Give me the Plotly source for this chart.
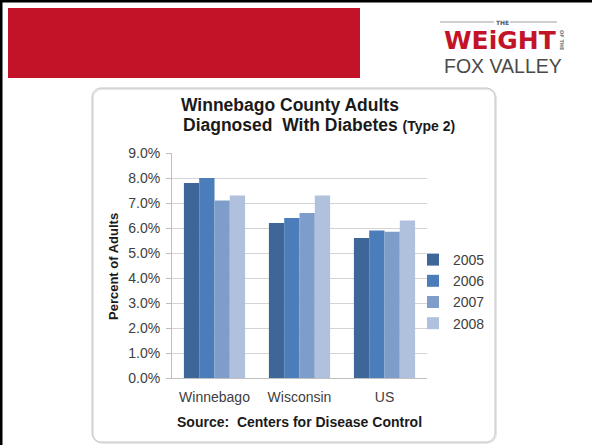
import plotly.graph_objects as go

categories = ["Winnebago", "Wisconsin", "US"]
years = ["2005", "2006", "2007", "2008"]
v2005 = [0.078, 0.062, 0.056]
v2006 = [0.080, 0.064, 0.059]
v2007 = [0.071, 0.066, 0.0585]
v2008 = [0.073, 0.073, 0.063]
series = [v2005, v2006, v2007, v2008]
colors = ["#3E6698", "#4A7DBA", "#7F9DCB", "#B0C1DE"]

W, H = 592, 445
L, R, T, B = 172, 427, 153, 378  # plot area pixels

def fx(px):
    return (px - L) / (R - L)

def fy(py):
    return 1 - (py - T) / (B - T)

FONT = "Liberation Sans, Arial, sans-serif"

fig = go.Figure()
for name, vals, col in zip(years, series, colors):
    fig.add_trace(go.Bar(x=categories, y=vals, name=name, marker=dict(color=col, line=dict(width=0))))

shapes = []
# black border top & left
shapes.append(dict(type="rect", xref="paper", yref="paper", x0=fx(0), x1=fx(W), y0=fy(0), y1=fy(2.5),
                   fillcolor="black", line=dict(width=0), layer="above"))
shapes.append(dict(type="rect", xref="paper", yref="paper", x0=fx(0), x1=fx(2.5), y0=fy(0), y1=fy(H),
                   fillcolor="black", line=dict(width=0), layer="above"))
# red banner
shapes.append(dict(type="rect", xref="paper", yref="paper", x0=fx(8), x1=fx(360), y0=fy(8), y1=fy(78),
                   fillcolor="#C31329", line=dict(width=0), layer="below"))

# rounded chart box
def rrect(x0, y0, x1, y1, r):
    k = 0.45
    pts = [
        f"M{fx(x0 + r)},{fy(y0)}",
        f"L{fx(x1 - r)},{fy(y0)}",
        f"C{fx(x1 - r * k)},{fy(y0)} {fx(x1)},{fy(y0 + r * k)} {fx(x1)},{fy(y0 + r)}",
        f"L{fx(x1)},{fy(y1 - r)}",
        f"C{fx(x1)},{fy(y1 - r * k)} {fx(x1 - r * k)},{fy(y1)} {fx(x1 - r)},{fy(y1)}",
        f"L{fx(x0 + r)},{fy(y1)}",
        f"C{fx(x0 + r * k)},{fy(y1)} {fx(x0)},{fy(y1 - r * k)} {fx(x0)},{fy(y1 - r)}",
        f"L{fx(x0)},{fy(y0 + r)}",
        f"C{fx(x0)},{fy(y0 + r * k)} {fx(x0 + r * k)},{fy(y0)} {fx(x0 + r)},{fy(y0)}",
        "Z",
    ]
    return " ".join(pts)

shapes.append(dict(type="path", xref="paper", yref="paper", path=rrect(93, 89, 496, 443, 9),
                   line=dict(color="#E6E6E6", width=2), layer="below"))
shapes.append(dict(type="path", xref="paper", yref="paper", path=rrect(92, 88, 495, 442, 9),
                   line=dict(color="#C4C4C4", width=1), layer="below"))

# logo lines
shapes.append(dict(type="line", xref="paper", yref="paper", x0=fx(440), x1=fx(494), y0=fy(22), y1=fy(22),
                   line=dict(color="#A0A0A0", width=1)))
shapes.append(dict(type="line", xref="paper", yref="paper", x0=fx(510), x1=fx(557), y0=fy(22), y1=fy(22),
                   line=dict(color="#A0A0A0", width=1)))

annotations = []
def ann(text, x, y, size, color="#000000", bold=False, xanchor="left", yanchor="middle", family=FONT, angle=0):
    t = f"<b>{text}</b>" if bold else text
    annotations.append(dict(text=t, xref="paper", yref="paper", x=fx(x), y=fy(y), showarrow=False,
                            xanchor=xanchor, yanchor=yanchor, textangle=angle,
                            font=dict(size=size, color=color, family=family)))

# title
ann("Winnebago County Adults", 179, 105, 17.5, "#1A1A1A", bold=True)
ann("Diagnosed  With Diabetes <span style='font-size:14px'>(Type 2)</span>", 181, 125, 17.5, "#1A1A1A", bold=True)
# y axis title
ann("Percent of Adults", 113, 267, 13, "#1A1A1A", bold=True, xanchor="center", angle=-90)
# source
ann("Source:  Centers for Disease Control", 299, 422, 14, "#1A1A1A", bold=True, xanchor="center")
# logo
ann("THE", 502, 22, 6, "#555555", bold=True, xanchor="center", family="DejaVu Sans, sans-serif")
ann("WEiGHT", 500, 40, 25, "#C31329", bold=True, xanchor="center", family="DejaVu Sans, sans-serif")
ann("OF THE", 562, 40, 5, "#777777", bold=True, xanchor="center", angle=90, family="DejaVu Sans, sans-serif")
ann("FOX VALLEY", 503, 66, 19.5, "#4A4A4A", xanchor="center", family="Liberation Sans, Arial, sans-serif")

fig.update_layout(
    width=W, height=H,
    margin=dict(l=L, r=W - R, t=T, b=H - B, pad=0),
    paper_bgcolor="white", plot_bgcolor="white",
    barmode="group", bargap=0.28, bargroupgap=0,
    font=dict(family=FONT, size=14, color="#404040"),
    showlegend=True,
    legend=dict(x=fx(413), y=fy(244), xanchor="left", yanchor="top", bgcolor="rgba(0,0,0,0)",
                font=dict(size=14, color="#404040"), tracegroupgap=0, itemwidth=30),
    shapes=shapes,
    annotations=annotations,
)
fig.update_yaxes(range=[0, 0.09], dtick=0.01, tickformat=".1%", showgrid=True, gridcolor="#D4D4D4", gridwidth=1,
                 showline=True, linecolor="#BFBFBF", linewidth=1, ticks="outside", ticklen=5, tickcolor="#BFBFBF",
                 ticklabelstandoff=3, zeroline=False, fixedrange=True, tickfont=dict(size=14))
fig.update_xaxes(showline=True, linecolor="#BFBFBF", linewidth=1, ticks="", tickfont=dict(size=14),
                 ticklabelstandoff=6, fixedrange=True)

fig.write_html("out.html")
